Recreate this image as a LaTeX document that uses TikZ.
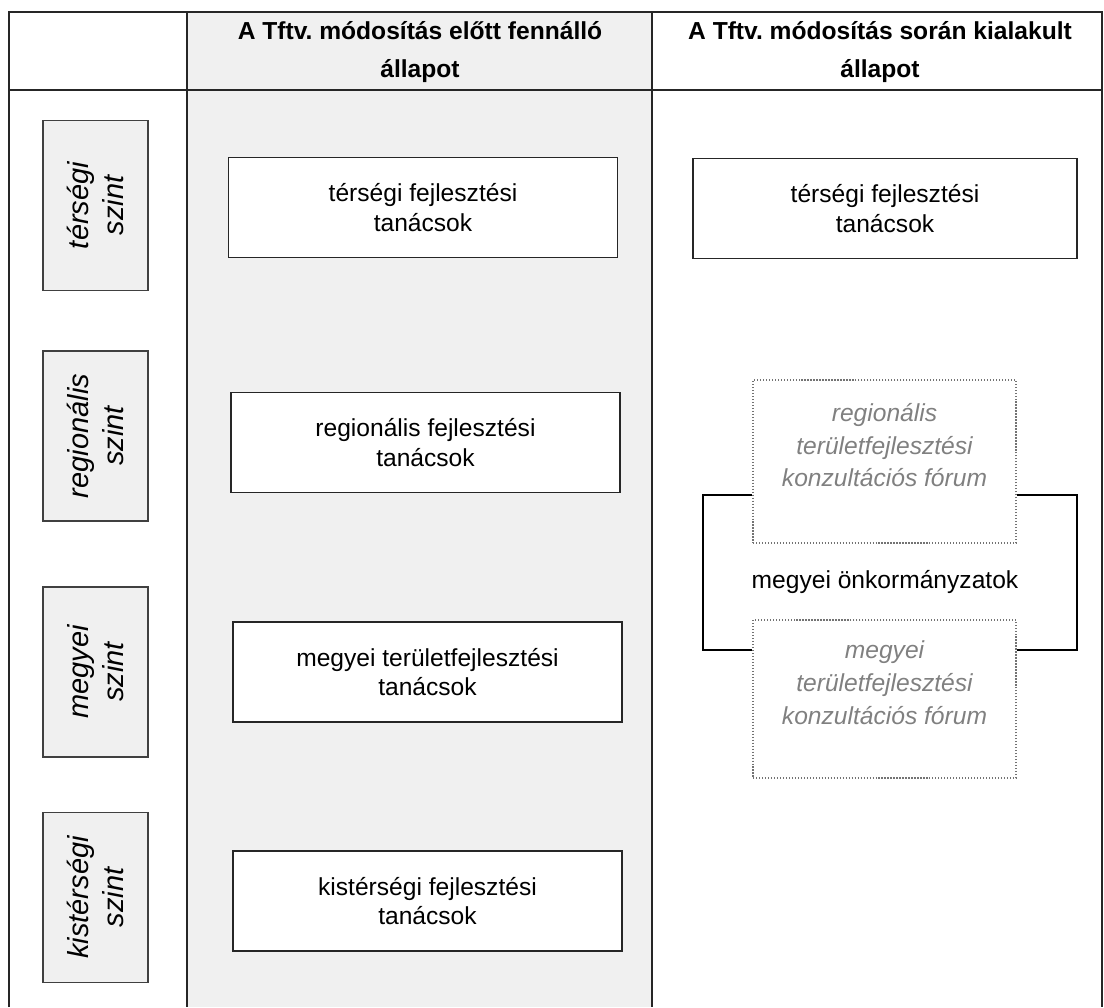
\documentclass[tikz,border=0pt]{standalone}
\usepackage{fontspec}
\setmainfont{Liberation Sans}
\usetikzlibrary{positioning}
\frenchspacing

\begin{document}
\begin{tikzpicture}[x=0.02cm,y=-0.02cm]
\tikzstyle{level} = [rectangle, rotate=90, minimum width=3.4cm, minimum height=2.1cm, align=center, draw=black!75, fill=black!6, line width=0.8pt, font=\itshape\fontsize{16.5}{19.8}\selectfont]
\tikzstyle{council} = [rectangle, minimum width=7.78cm, minimum height=2cm, align=center, draw=black!85, fill=white, line width=0.8pt, font=\fontsize{14}{17}\selectfont]
\tikzstyle{forum} = [rectangle, minimum width=5.26cm, minimum height=3.2cm, align=center, draw=black!55, densely dotted, text=black!50, line width=0.7pt, font=\itshape\fontsize{14}{18.7}\selectfont]
\tikzstyle{head} = [align=center, font=\bfseries\fontsize{14}{21.5}\selectfont]
\tikzstyle{grid} = [line width=0.8pt, draw=black!85]
\tikzstyle{line} = [line width=0.8pt, -]

    \useasboundingbox (0,0) rectangle (1104,1007);

    % table
    \fill[black!6] (187,12) rectangle (652,1007);
    \draw[grid] (9,1007) -- (9,12) -- (1102,12) -- (1102,1007);
    \draw[grid] (9,90) -- (1102,90);
    \draw[grid] (187,12) -- (187,1007);
    \draw[grid] (652,12) -- (652,1007);

    \node (hbefore) at (420,52) [head] {A Tftv. módosítás előtt fennálló\\állapot};
    \node (hafter) at (880,52) [head] {A Tftv. módosítás során kialakult\\állapot};

    % levels
    \node (lterseg) at (95.5,205.5) [level] {térségi\\szint};
    \node (lregion) at (95.5,436) [level] {regionális\\szint};
    \node (lcounty) at (95.5,672) [level] {megyei\\szint};
    \node (lsmall) at (95.5,897.5) [level] {kistérségi\\szint};

    % before
    \node (bterseg) at (423,207.5) [council] {térségi fejlesztési\\tanácsok};
    \node (bregion) at (425.5,442.5) [council] {regionális fejlesztési\\tanácsok};
    \node (bcounty) at (427.5,672) [council] {megyei területfejlesztési\\tanácsok};
    \node (bsmall) at (427.5,901) [council] {kistérségi fejlesztési\\tanácsok};

    % after
    \node (aterseg) at (885,208.5) [council, minimum width=7.68cm] {térségi fejlesztési\\tanácsok};
    \node (fregion) at (884.5,461.5) [forum, minimum height=3.26cm] {regionális\\területfejlesztési\\konzultációs fórum\\~};
    \node (fcounty) at (884.5,699) [forum, minimum height=3.16cm] {megyei\\területfejlesztési\\konzultációs fórum\\~};
    \node (govt) at (885,582) [font=\fontsize{14}{17}\selectfont] {megyei önkormányzatok};

    \draw [line] (fregion.west |- 0,495) -| (703,572) |- (fcounty.west |- 0,650);
    \draw [line] (fregion.east |- 0,495) -| (1077,572) |- (fcounty.east |- 0,650);
\end{tikzpicture}
\end{document}
